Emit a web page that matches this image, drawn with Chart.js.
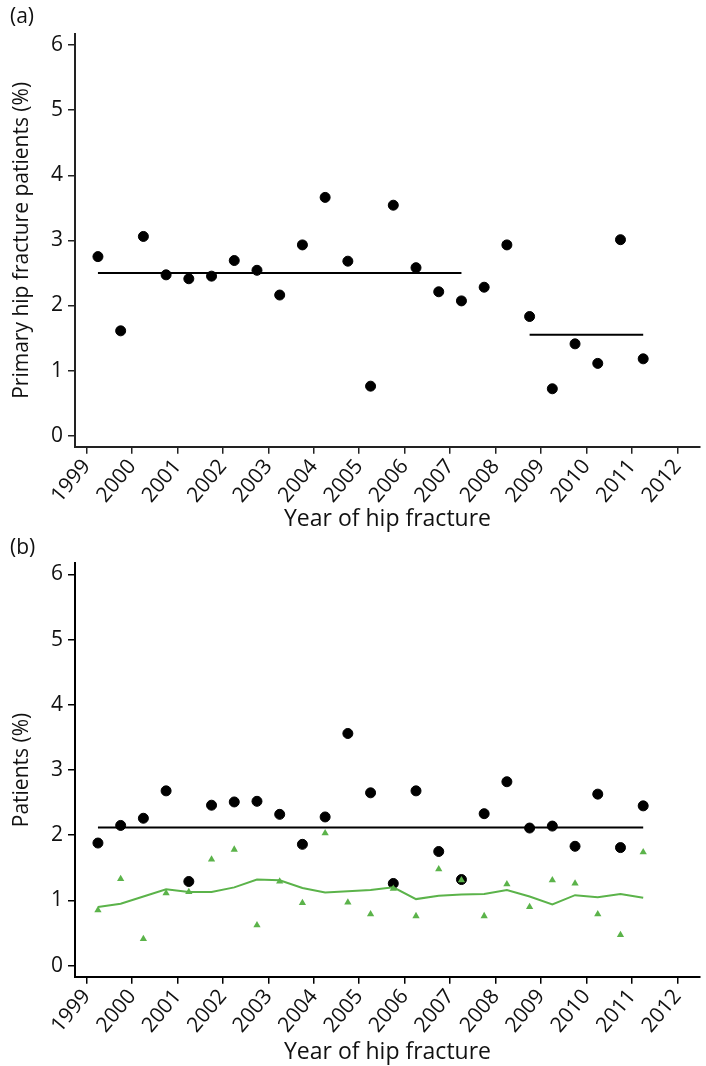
<!DOCTYPE html>
<html>
<head>
<meta charset="utf-8">
<script src="https://cdn.jsdelivr.net/npm/chart.js@4/dist/chart.umd.min.js"></script>
<style>
  body { margin: 0; background: #fff; width: 706px; height: 1066px; position: relative; overflow: hidden; }
  .panel { position: absolute; left: 0; width: 706px; height: 533px; }
  .tag { position: absolute; left: 10px; font: 21px "Open Sans", sans-serif; color: #111; }
</style>
</head>
<body>
<div class="panel" style="top:0"><canvas id="chartA" width="706" height="533"></canvas></div>
<div class="panel" style="top:533px"><canvas id="chartB" width="706" height="533"></canvas></div>
<div class="tag" style="top:1px">(a)</div>
<div class="tag" style="top:532px">(b)</div>
<script>
// half-year periods (mid points)
const periods = [1999.25, 1999.75, 2000.25, 2000.75, 2001.25, 2001.75, 2002.25, 2002.75,
    2003.25, 2003.75, 2004.25, 2004.75, 2005.25, 2005.75, 2006.25, 2006.75, 2007.25,
    2007.75, 2008.25, 2008.75, 2009.25, 2009.75, 2010.25, 2010.75, 2011.25];
const yearTicks = [1999, 2000, 2001, 2002, 2003, 2004, 2005, 2006, 2007, 2008, 2009, 2010, 2011, 2012];
const pctTicks = [0, 1, 2, 3, 4, 5, 6];

// panel (a): primary hip fracture patients (%)
const primaryPct = [2.75, 1.61, 3.06, 2.47, 2.41, 2.45, 2.69, 2.54, 2.16, 2.93, 3.66, 2.68, 0.76,
    3.54, 2.58, 2.21, 2.07, 2.28, 2.93, 1.83, 0.72, 1.41, 1.11, 3.01, 1.18];
const meanEarly = { from: 1999.25, to: 2007.25, value: 2.50 };
const meanLate = { from: 2008.75, to: 2011.25, value: 1.55 };

// panel (b)
const blackPct = [1.88, 2.15, 2.26, 2.68, 1.29, 2.46, 2.51, 2.52, 2.32, 1.86, 2.28, 3.56, 2.65,
    1.26, 2.68, 1.75, 1.32, 2.33, 2.82, 2.11, 2.14, 1.83, 2.63, 1.81, 2.45];
const blackMean = { from: 1999.25, to: 2011.25, value: 2.12 };
const greenPct = [0.85, 1.33, 0.41, 1.11, 1.13, 1.63, 1.78, 0.62, 1.29, 0.96, 2.03, 0.97, 0.79,
    1.18, 0.76, 1.48, 1.31, 0.76, 1.25, 0.90, 1.31, 1.26, 0.79, 0.47, 1.74];
const greenLine = [0.90, 0.95, 1.06, 1.17, 1.13, 1.13, 1.20, 1.32, 1.31, 1.19, 1.12, 1.14, 1.16,
    1.20, 1.02, 1.07, 1.09, 1.10, 1.16, 1.06, 0.94, 1.08, 1.05, 1.10, 1.04];

const GREEN = '#5bb34a';
const FONT = '"Open Sans", sans-serif';

const pts = (vals) => vals.map((v, i) => ({ x: periods[i], y: v }));
const seg = (m) => [{ x: m.from, y: m.value }, { x: m.to, y: m.value }];

function makeOptions(yTitle, top, xHeight, axisColor) {
    return {
        responsive: false,
        animation: false,
        layout: { padding: { top: top, right: 0, left: 0, bottom: 0 } },
        plugins: { legend: { display: false }, tooltip: { enabled: false } },
        scales: {
            x: {
                type: 'linear',
                min: 1998.745,
                max: 2012.5,
                afterBuildTicks: (s) => { s.ticks = yearTicks.map(v => ({ value: v })); },
                afterFit: (s) => { s.height = xHeight; },
                border: { display: true, color: axisColor, width: 2 },
                grid: { drawOnChartArea: false, drawTicks: true, tickLength: 7, color: axisColor, lineWidth: 1.5 },
                ticks: {
                    autoSkip: false, minRotation: 50, maxRotation: 50, padding: 1,
                    color: '#111', font: { family: FONT, size: 21 },
                    callback: (v) => String(v)
                },
                title: {
                    display: true, text: 'Year of hip fracture', color: '#111',
                    font: { family: FONT, size: 23 }, padding: { top: 0, bottom: 0 }
                }
            },
            y: {
                min: -0.17,
                max: 6.17,
                afterBuildTicks: (s) => { s.ticks = pctTicks.map(v => ({ value: v })); },
                afterFit: (s) => { s.width = 75; },
                border: { display: true, color: axisColor, width: 2 },
                grid: { drawOnChartArea: false, drawTicks: true, tickLength: 7, color: axisColor, lineWidth: 1.5 },
                ticks: { padding: 5, color: '#111', font: { family: FONT, size: 21 } },
                title: {
                    display: true, text: yTitle, color: '#111',
                    font: { family: FONT, size: 21 }, padding: { top: 9, bottom: 0 }
                }
            }
        }
    };
}

const chartA = new Chart(document.getElementById('chartA'), {
    type: 'scatter',
    data: {
        datasets: [
            { data: pts(primaryPct), backgroundColor: '#000', borderColor: '#000', pointRadius: 5, order: 1 },
            { data: seg(meanEarly), showLine: true, borderColor: '#000', borderWidth: 2, pointRadius: 0, order: 2 },
            { data: seg(meanLate), showLine: true, borderColor: '#000', borderWidth: 2, pointRadius: 0, order: 2 }
        ]
    },
    options: makeOptions('Primary hip fracture patients (%)', 34, 86.3, '#222')
});

const chartB = new Chart(document.getElementById('chartB'), {
    type: 'scatter',
    data: {
        datasets: [
            { data: pts(greenPct), pointStyle: 'triangle', backgroundColor: GREEN, borderColor: GREEN, pointRadius: 4.2, borderWidth: 0, order: 1 },
            { data: pts(greenLine), showLine: true, borderColor: GREEN, borderWidth: 2, pointRadius: 0, order: 2 },
            { data: pts(blackPct), backgroundColor: '#000', borderColor: '#000', pointRadius: 5, order: 3 },
            { data: seg(blackMean), showLine: true, borderColor: '#000', borderWidth: 2, pointRadius: 0, order: 4 }
        ]
    },
    options: makeOptions('Patients (%)', 30.3, 89.3, '#000')
});
</script>
</body>
</html>
